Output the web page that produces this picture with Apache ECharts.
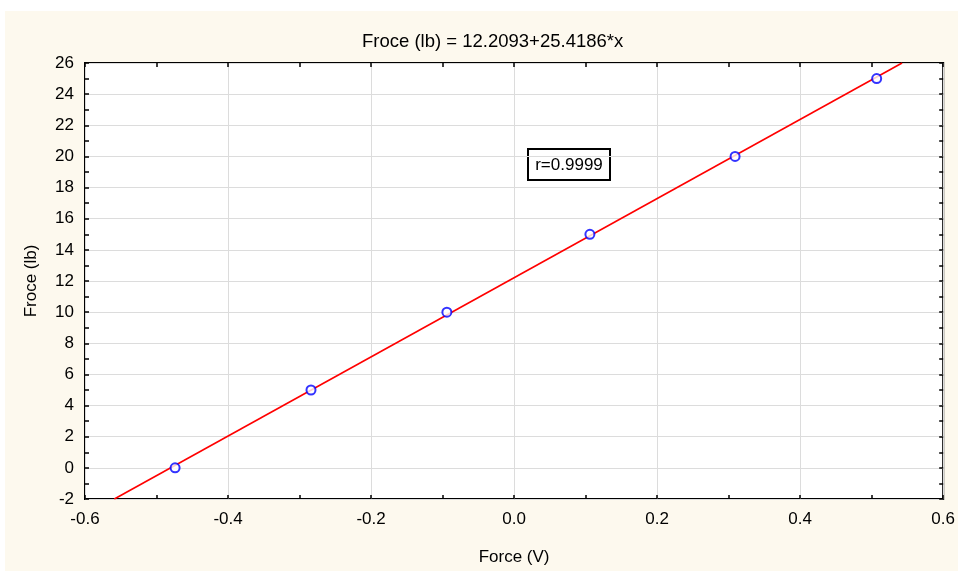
<!DOCTYPE html>
<html><head><meta charset="utf-8">
<script src="https://cdn.jsdelivr.net/npm/echarts@6/dist/echarts.min.js"></script>
<style>html,body{margin:0;padding:0;background:#fff;}#c{width:958px;height:571px;}</style>
</head><body><div id="c"></div>
<script>
const titleText = 'Froce (lb) = 12.2093+25.4186*x';
const xName = 'Force (V)';
const yName = 'Froce (lb)';
const pointsX = [-0.474, -0.284, -0.094, 0.106, 0.309, 0.507];
const pointsY = [0, 5, 10, 15, 20, 25];
const fitX = [-0.559, 0.5425];
const fitY = [-2, 26];
const rText = 'r=0.9999';

const FONT = '"Liberation Sans", Arial, sans-serif';
const chart = echarts.init(document.getElementById('c'), null, {renderer: 'canvas'});
const lbl = {color: '#000', fontSize: 17, fontFamily: FONT};
function xAx(pos, showLabel) {
  return {
    type: 'value', position: pos, min: -0.6, max: 0.6, interval: 0.2,
    axisLine: {show: false, onZero: false},
    axisTick: {show: true, inside: true, length: 4, lineStyle: {color: '#000', width: 1.5}},
    minorTick: {show: true, splitNumber: 2, length: 4, lineStyle: {color: '#000', width: 1.5}},
    axisLabel: showLabel ? Object.assign({margin: 12, formatter: v => v.toFixed(1)}, lbl) : {show: false},
    splitLine: {show: showLabel, lineStyle: {color: '#dcdcdc', width: 1}},
    name: showLabel ? xName : '', nameLocation: 'middle', nameGap: 50,
    nameTextStyle: lbl
  };
}
function yAx(pos, showLabel) {
  return {
    type: 'value', position: pos, min: -2, max: 26, interval: 2,
    axisLine: {show: false, onZero: false},
    axisTick: {show: true, inside: true, length: 4, lineStyle: {color: '#000', width: 1.5}},
    minorTick: {show: true, splitNumber: 2, length: 4, lineStyle: {color: '#000', width: 1.5}},
    axisLabel: showLabel ? Object.assign({margin: 11}, lbl) : {show: false},
    splitLine: {show: showLabel, lineStyle: {color: '#dcdcdc', width: 1}},
    name: showLabel ? yName : '', nameLocation: 'middle', nameGap: 45,
    nameTextStyle: lbl
  };
}
chart.setOption({
  animation: false,
  backgroundColor: '#fff',
  graphic: [
    {type: 'rect', z: -10, silent: true, shape: {x: 5, y: 11, width: 953, height: 560}, style: {fill: '#fdf9ee'}},
    {type: 'group', left: 527, top: 148, z: 100, children: [
      {type: 'rect', shape: {x: 0, y: 0, width: 82, height: 31}, style: {fill: '#fff', stroke: '#000', lineWidth: 2}},
      {type: 'text', style: {x: 41, y: 16, text: rText, fill: '#000', font: '17px ' + FONT, textAlign: 'center', textVerticalAlign: 'middle'}}
    ]}
  ],
  title: {text: titleText, left: 357, top: 27, textStyle: {color: '#000', fontSize: 18.5, fontWeight: 'normal', fontFamily: FONT}},
  grid: {left: 85, top: 63, right: 14, bottom: 72, show: true, backgroundColor: '#fff', borderColor: '#000', borderWidth: 2},
  xAxis: [xAx('bottom', true), xAx('top', false)],
  yAxis: [yAx('left', true), yAx('right', false)],
  series: [
    {type: 'line', data: fitX.map((x, i) => [x, fitY[i]]), symbol: 'none', clip: true,
     lineStyle: {color: '#ff0000', width: 1.6}, z: 3},
    {type: 'scatter', data: pointsX.map((x, i) => [x, pointsY[i]]), symbol: 'emptyCircle', symbolSize: 9,
     itemStyle: {color: '#0000ff', borderColor: '#0000ff', borderWidth: 2}, z: 4}
  ]
});
</script></body></html>
